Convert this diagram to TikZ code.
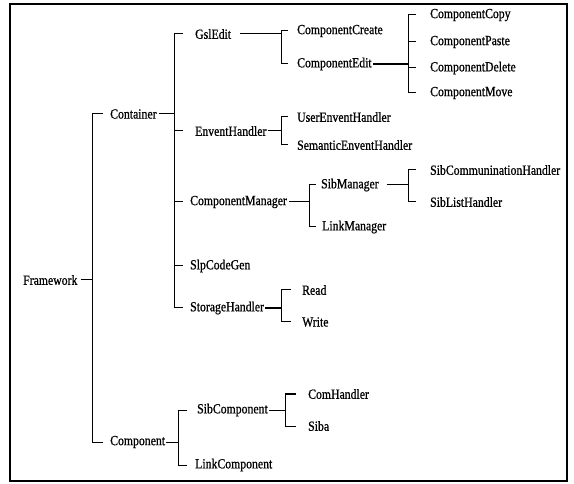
\documentclass[tikz,border=0pt]{standalone}
\usepackage{fontspec}
\setmainfont{Liberation Serif}[FakeStretch=0.84,FakeBold=0.8]
\begin{document}
\begin{tikzpicture}[x=1pt,y=-1pt,
  lbl/.style={anchor=west,inner sep=0pt,font=\fontsize{14}{16}\selectfont},
  ln/.style={line width=1pt},
  thk/.style={line width=1.7pt},
  frame/.style={line width=1.3pt}]
\useasboundingbox (0,0) rectangle (574,484);
\draw[frame] (10,4) rectangle (567,481);
% nodes
\node[lbl] (fw) at (23,280) {Framework};
\node[lbl] (ct) at (110,114) {Container};
\node[lbl] (cp) at (110,442) {Component};
\node[lbl] (gsl) at (195,34) {GslEdit};
\node[lbl] (evh) at (195,131) {EnventHandler};
\node[lbl] (cm) at (190,202) {ComponentManager};
\node[lbl] (slp) at (190,266) {SlpCodeGen};
\node[lbl] (sth) at (190,308) {StorageHandler};
\node[lbl] (ccr) at (297,31) {ComponentCreate};
\node[lbl] (ced) at (297,64) {ComponentEdit};
\node[lbl] (cco) at (430,15) {ComponentCopy};
\node[lbl] (cpa) at (430,42) {ComponentPaste};
\node[lbl] (cde) at (430,68) {ComponentDelete};
\node[lbl] (cmo) at (430,93) {ComponentMove};
\node[lbl] (ueh) at (297,117) {UserEnventHandler};
\node[lbl] (seh) at (297,145) {SemanticEnventHandler};
\node[lbl] (sbm) at (321,185) {SibManager};
\node[lbl] (lkm) at (322,227) {LinkManager};
\node[lbl] (sch) at (430,170) {SibCommuninationHandler};
\node[lbl] (slh) at (430,202) {SibListHandler};
\node[lbl] (rd) at (302,290) {Read};
\node[lbl] (wr) at (302,322) {Write};
\node[lbl] (sbc) at (197,410) {SibComponent};
\node[lbl] (lkc) at (195,465) {LinkComponent};
\node[lbl] (com) at (308,394) {ComHandler};
\node[lbl] (siba) at (308,426) {Siba};
% bus coordinates
\coordinate (bA) at (92,0);
\coordinate (bB) at (174,0);
\coordinate (bC) at (281,0);
\coordinate (bD) at (408,0);
\coordinate (bE) at (309,0);
\coordinate (bF) at (178,0);
\coordinate (bG) at (285,0);
% Framework
\draw[ln] ([xshift=3pt]fw.east) -- (fw.east -| bA);
\draw[ln] ([xshift=11pt]ct.west -| bA) -- (ct.west -| bA) -- (cp.west -| bA) -- ([xshift=11pt]cp.west -| bA);
% Container
\draw[ln] ([xshift=2pt]ct.east) -- (ct.east -| bB);
\draw[ln] ([xshift=9pt]gsl.west -| bB) -- (gsl.west -| bB) -- (sth.west -| bB) -- ([xshift=9pt]sth.west -| bB);
\draw[ln] (evh.west -| bB) -- ++(9,0);
\draw[ln] (cm.west -| bB) -- ++(9,0);
\draw[ln] (slp.west -| bB) -- ++(9,0);
% GslEdit
\draw[ln] ([xshift=9pt]gsl.east) -- (gsl.east -| bC);
\draw[ln] ([xshift=7pt]ccr.west -| bC) -- (ccr.west -| bC) -- (ced.west -| bC) -- ([xshift=7pt]ced.west -| bC);
% ComponentEdit
\draw[thk] ([xshift=1pt]ced.east) -- (ced.east -| bD);
\draw[ln] ([xshift=8pt]cco.west -| bD) -- (cco.west -| bD) -- (cmo.west -| bD) -- ([xshift=8pt]cmo.west -| bD);
\draw[ln] (cpa.west -| bD) -- ++(8,0);
\draw[ln] (cde.west -| bD) -- ++(8,0);
% EnventHandler
\draw[ln] ([xshift=1pt]evh.east) -- (evh.east -| bC);
\draw[ln] ([xshift=7pt]ueh.west -| bC) -- (ueh.west -| bC) -- (seh.west -| bC) -- ([xshift=7pt]seh.west -| bC);
% ComponentManager
\draw[ln] ([xshift=2pt]cm.east) -- (cm.east -| bE);
\draw[ln] ([xshift=7pt]sbm.west -| bE) -- (sbm.west -| bE) -- (lkm.west -| bE) -- ([xshift=7pt]lkm.west -| bE);
% SibManager
\draw[ln] ([xshift=8pt]sbm.east) -- (sbm.east -| bD);
\draw[ln] ([xshift=8pt]sch.west -| bD) -- (sch.west -| bD) -- (slh.west -| bD) -- ([xshift=8pt]slh.west -| bD);
% StorageHandler
\draw[thk] ([xshift=1pt]sth.east) -- (sth.east -| bC);
\draw[ln] ([xshift=10pt]rd.west -| bC) -- (rd.west -| bC) -- (wr.west -| bC) -- ([xshift=10pt]wr.west -| bC);
% Component
\draw[ln] ([xshift=1pt]cp.east) -- (cp.east -| bF);
\draw[ln] ([xshift=9pt]sbc.west -| bF) -- (sbc.west -| bF) -- (lkc.west -| bF) -- ([xshift=9pt]lkc.west -| bF);
% SibComponent
\draw[ln] ([xshift=1pt]sbc.east) -- (sbc.east -| bG);
\draw[ln] ([xshift=11pt]com.west -| bG) -- (com.west -| bG) -- (siba.west -| bG) -- ([xshift=11pt]siba.west -| bG);
\end{tikzpicture}
\end{document}
